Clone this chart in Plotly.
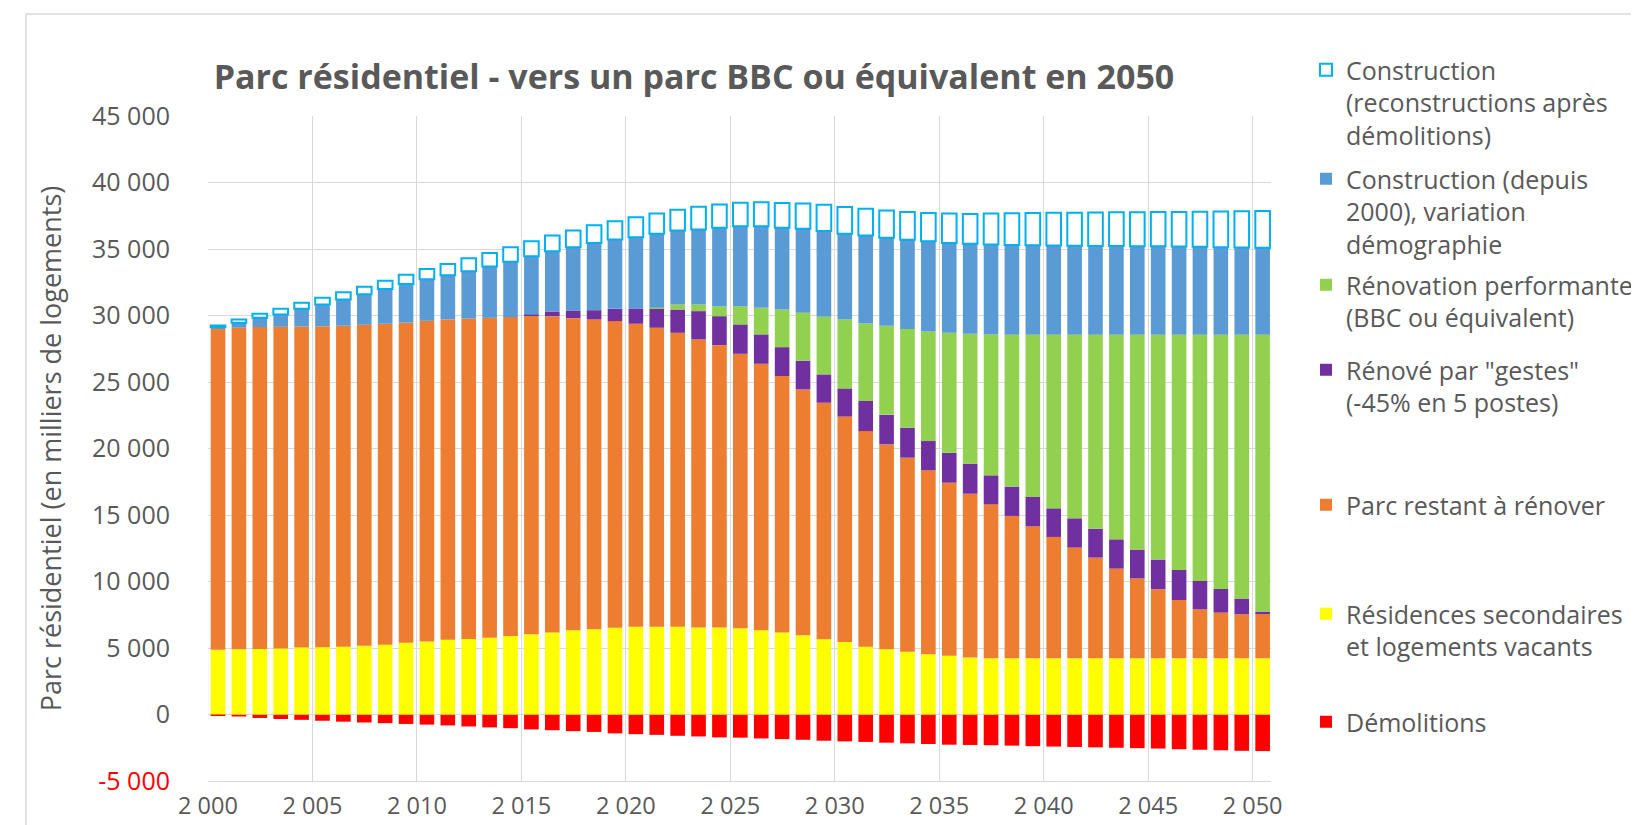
import plotly.graph_objects as go

# ---------------- data (milliers de logements) ----------------
years = list(range(2000, 2051))

demolitions = [
    -50, -150, -260, -340, -400, -470, -540, -600, -650, -710,
    -760, -820, -900, -970, -1030, -1120, -1180, -1250, -1310, -1420,
    -1480, -1530, -1600, -1650, -1720, -1740, -1800, -1850, -1900, -1970,
    -2020, -2060, -2120, -2170, -2220, -2270, -2290, -2310, -2340, -2380,
    -2410, -2440, -2470, -2500, -2530, -2560, -2610, -2650, -2690, -2730,
    -2750]

residences_secondaires = [
    4860, 4900, 4920, 4960, 5030, 5050, 5090, 5160, 5240, 5400,
    5480, 5620, 5680, 5780, 5900, 6030, 6160, 6330, 6410, 6530,
    6590, 6590, 6590, 6540, 6540, 6490, 6340, 6160, 5960, 5660,
    5450, 5090, 4910, 4710, 4530, 4410, 4280, 4230, 4230, 4230,
    4230, 4230, 4230, 4230, 4230, 4230, 4230, 4230, 4230, 4230,
    4230]

parc_restant = [
    24170, 24180, 24210, 24190, 24140, 24150, 24140, 24140, 24140, 24060,
    24120, 24080, 24080, 24040, 23980, 23950, 23790, 23470, 23290, 23050,
    22790, 22490, 22110, 21660, 21230, 20630, 20030, 19290, 18480, 17780,
    16950, 16220, 15400, 14600, 13830, 13020, 12320, 11570, 10700, 9920,
    9120, 8320, 7570, 6740, 6010, 5190, 4380, 3680, 3430, 3310,
    3360]

renove_gestes = [
    0, 0, 0, 0, 0, 0, 0, 0, 0, 0,
    0, 0, 0, 0, 0, 80, 350, 580, 700, 920,
    1150, 1450, 1750, 2130, 2180, 2210, 2210, 2170, 2160, 2130,
    2120, 2260, 2220, 2250, 2200, 2250, 2260, 2180, 2200, 2210,
    2150, 2200, 2170, 2200, 2160, 2230, 2260, 2130, 1780, 1180,
    150]

renovation_performante = [
    0, 0, 0, 0, 0, 0, 0, 0, 0, 0,
    0, 0, 0, 0, 0, 0, 0, 0, 0, 0,
    0, 70, 380, 500, 750, 1370, 2000, 2830, 3600, 4330,
    5180, 5830, 6700, 7420, 8240, 9020, 9760, 10600, 11430, 12200,
    13060, 13810, 14590, 15390, 16160, 16910, 17690, 18520, 19120, 19840,
    20820]

construction_demographie = [
    100, 370, 700, 930, 1330, 1630, 1970, 2290, 2620, 2900,
    3120, 3330, 3570, 3860, 4170, 4400, 4530, 4760, 5060, 5210,
    5360, 5540, 5560, 5630, 5890, 6010, 6130, 6140, 6330, 6460,
    6440, 6610, 6610, 6710, 6790, 6760, 6770, 6760, 6740, 6720,
    6700, 6680, 6670, 6660, 6650, 6640, 6620, 6600, 6580, 6550,
    6530]

construction_reconstruction = [
    120, 250, 300, 420, 450, 500, 550, 580, 620, 700,
    780, 850, 970, 1020, 1080, 1130, 1180, 1250, 1330, 1380,
    1500, 1520, 1570, 1710, 1750, 1760, 1810, 1860, 1900, 1960,
    2010, 2020, 2050, 2100, 2120, 2210, 2250, 2330, 2390, 2420,
    2460, 2490, 2510, 2540, 2560, 2580, 2610, 2640, 2680, 2730,
    2770]

x_tick_values = list(range(2000, 2051, 5))
x_tick_labels = ["2 000", "2 005", "2 010", "2 015", "2 020", "2 025",
                 "2 030", "2 035", "2 040", "2 045", "2 050"]
y_tick_values = list(range(-5000, 45001, 5000))
y_tick_labels = ['<span style="color:#FF0000">-5 000</span>', "0", "5 000",
                 "10 000", "15 000", "20 000", "25 000", "30 000", "35 000",
                 "40 000", "45 000"]

# ---------------- styling ----------------
FONT = "Open Sans"
GREY = "#595959"
W, H = 1639, 825
L, R, T, B = 200, 376, 108, 52
plot_w, plot_h = W - L - R, H - T - B

def px_x(px):
    return (px - L) / plot_w

def px_y(px):
    return (H - B - px) / plot_h

legend_x = px_x(1298)

series = [
    ("Démolitions", demolitions, "#FF0000", None, "legend7", 691),
    ("Résidences secondaires<br>et logements vacants", residences_secondaires,
     "#FFFF00", None, "legend6", 583),
    ("Parc restant à rénover", parc_restant, "#ED7D31", None, "legend5", 474),
    ('Rénové par "gestes"<br>(-45% en 5 postes)', renove_gestes, "#7030A0",
     None, "legend4", 339),
    ("Rénovation performante<br>(BBC ou équivalent)", renovation_performante,
     "#92D050", None, "legend3", 254),
    ("Construction (depuis<br>2000), variation<br>démographie",
     construction_demographie, "#5B9BD5", None, "legend2", 148),
    ("Construction<br>(reconstructions après<br>démolitions)",
     construction_reconstruction, "#FFFFFF", "#00B0F0", "legend", 39),
]

fig = go.Figure()
legend_layouts = {}
for name, vals, color, line_color, leg, top_px in series:
    marker = dict(color=color)
    if line_color:
        marker["line"] = dict(color=line_color, width=2)
    else:
        marker["line"] = dict(width=0)
    fig.add_trace(go.Bar(
        x=years, y=vals, name=name, marker=marker,
        width=0.7, offset=0.13, legend=leg,
    ))
    legend_layouts[leg] = dict(
        x=legend_x, y=px_y(top_px), xanchor="left", yanchor="top",
        xref="paper", yref="paper", valign="top",
        font=dict(family=FONT, size=25, color=GREY),
        bgcolor="rgba(0,0,0,0)", borderwidth=0,
    )

fig.update_layout(
    width=W, height=H,
    barmode="relative",
    paper_bgcolor="white", plot_bgcolor="white",
    margin=dict(l=L, r=R, t=T, b=B, autoexpand=False),
    font=dict(family=FONT, color=GREY),
    title=dict(
        text="<b>Parc résidentiel - vers un parc BBC ou équivalent en 2050</b>",
        x=686 / W, xanchor="center", xref="container",
        y=1 - 69 / H, yanchor="middle", yref="container",
        font=dict(family=FONT, size=34, color=GREY),
    ),
    showlegend=True,
    **legend_layouts,
)

fig.update_xaxes(
    range=[2000, 2050.88],
    tickvals=x_tick_values, ticktext=x_tick_labels,
    showgrid=True, gridcolor="#D9D9D9", gridwidth=1,
    showline=True, linecolor="#D9D9D9", linewidth=1,
    ticks="", tickfont=dict(family=FONT, size=23.5, color=GREY),
    ticklabelstandoff=4, zeroline=False,
)
fig.update_yaxes(
    range=[-5000, 45000],
    tickvals=y_tick_values, ticktext=y_tick_labels,
    showgrid=True, gridcolor="#D9D9D9", gridwidth=1,
    zeroline=False, ticks="",
    tickfont=dict(family=FONT, size=25, color=GREY),
    ticklabelstandoff=37,
    title=dict(text="Parc résidentiel (en milliers de logements)",
               font=dict(family=FONT, size=27, color=GREY), standoff=22),
)

# outer chart border (top and left edges visible)
fig.add_shape(type="rect", xref="paper", yref="paper",
              x0=px_x(18), x1=px_x(1700), y0=px_y(900), y1=px_y(6),
              line=dict(color="#D9D9D9", width=1.5), fillcolor="rgba(0,0,0,0)",
              layer="below")

fig.write_html("out.html")
